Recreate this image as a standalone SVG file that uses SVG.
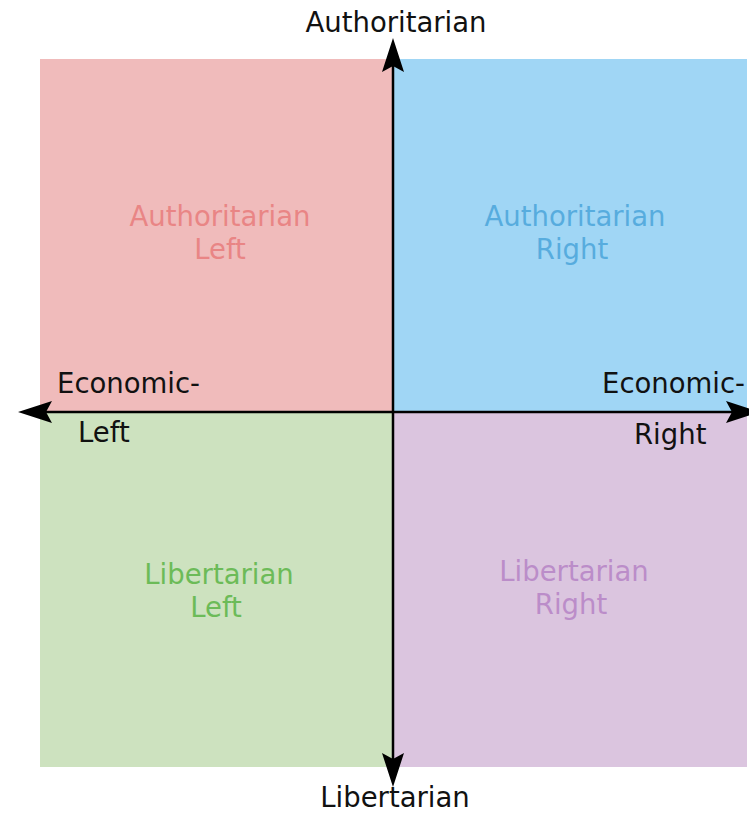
<svg xmlns="http://www.w3.org/2000/svg" width="749" height="814" viewBox="0 0 749 814">
<style>
text{font-family:"DejaVu Sans","Verdana",sans-serif;font-size:27.5px}
.ax{fill:#111}
.axis{stroke:#000;stroke-width:2.5;fill:none}
.head{fill:#000}
</style>
<rect width="749" height="814" fill="#fff"/>
<g id="authleft"><rect x="40" y="59" width="353" height="353" fill="#f0bbbb"/><text x="220" y="226" text-anchor="middle" fill="#e98585">Authoritarian</text><text x="220" y="259" text-anchor="middle" fill="#e98585">Left</text></g>
<g id="authright"><rect x="393" y="59" width="354" height="353" fill="#a0d6f5"/><text x="575" y="226" text-anchor="middle" fill="#57acde">Authoritarian</text><text x="572" y="259" text-anchor="middle" fill="#57acde">Right</text></g>
<g id="libleft"><rect x="40" y="412" width="353" height="355" fill="#cde2bf"/><text x="219" y="584" text-anchor="middle" fill="#6cbb58">Libertarian</text><text x="216" y="617" text-anchor="middle" fill="#6cbb58">Left</text></g>
<g id="libright"><rect x="393" y="412" width="354" height="355" fill="#dbc5df"/><text x="574" y="581" text-anchor="middle" fill="#bb8dc9">Libertarian</text><text x="571" y="614" text-anchor="middle" fill="#bb8dc9">Right</text></g>
<g id="connectors">
<line class="axis" x1="393" y1="60" x2="393" y2="765"/>
<line class="axis" x1="30" y1="412" x2="745" y2="412"/>
<path class="head" d="M393,38 L404,72 L393,66 L382,72 Z"/>
<path class="head" d="M393,787 L404,753 L393,759 L382,753 Z"/>
<path class="head" d="M18,412 L52,401 L46,412 L52,423 Z"/>
<path class="head" d="M760,412 L726,401 L732,412 L726,423 Z"/>
</g>
<g id="labels">
<text class="ax" x="396" y="32" text-anchor="middle">Authoritarian</text>
<text class="ax" x="395" y="807" text-anchor="middle">Libertarian</text>
<text class="ax" x="57" y="393">Economic-</text>
<text class="ax" x="78" y="442">Left</text>
<text class="ax" x="602" y="393">Economic-</text>
<text class="ax" x="634" y="444">Right</text>
</g>
</svg>
